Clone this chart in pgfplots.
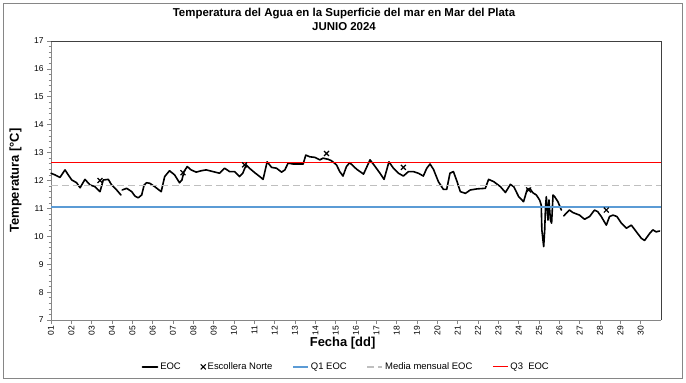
\documentclass[border=0pt]{standalone}
\usepackage{pgfplots}
\pgfplotsset{compat=1.18}
\usepackage{pgfplotstable}
\usepackage{fontspec}
\setmainfont{Liberation Sans}
\definecolor{qoneblue}{RGB}{91,155,213}
\definecolor{qthreered}{RGB}{255,0,0}
\definecolor{mediagray}{RGB}{191,191,191}
\definecolor{axgray}{RGB}{134,134,134}

\pgfplotstableread{
day temp
1.00 12.26
1.20 12.20
1.44 12.11
1.69 12.38
1.85 12.20
2.02 12.02
2.26 11.92
2.43 11.74
2.67 12.04
2.92 11.84
3.16 11.78
3.41 11.60
3.57 12.02
3.82 12.04
3.98 11.84
4.23 11.66
4.44 11.48
4.47 nan
4.50 11.66
4.72 11.72
4.97 11.60
5.13 11.44
5.29 11.38
5.46 11.48
5.58 11.84
5.70 11.92
5.86 11.90
6.10 11.78
6.42 11.60
6.59 12.14
6.83 12.35
7.08 12.20
7.32 11.92
7.44 12.02
7.54 12.32
7.70 12.50
7.89 12.38
8.14 12.30
8.39 12.35
8.63 12.38
8.96 12.32
9.29 12.26
9.54 12.44
9.78 12.32
10.03 12.32
10.27 12.14
10.43 12.26
10.60 12.56
10.76 12.44
11.02 12.28
11.27 12.14
11.43 12.04
11.63 12.67
11.85 12.47
12.09 12.44
12.34 12.30
12.50 12.38
12.66 12.62
12.91 12.59
13.40 12.59
13.53 12.91
13.73 12.85
13.97 12.83
14.22 12.74
14.38 12.80
14.63 12.76
14.79 12.71
15.04 12.56
15.20 12.32
15.36 12.16
15.53 12.50
15.69 12.64
15.89 12.50
16.04 12.40
16.37 12.23
16.69 12.74
16.94 12.50
17.18 12.26
17.38 12.04
17.62 12.67
17.84 12.44
18.09 12.26
18.33 12.16
18.58 12.32
18.82 12.32
19.07 12.26
19.31 12.16
19.48 12.44
19.64 12.59
19.81 12.40
20.05 11.96
20.30 11.68
20.46 11.68
20.62 12.26
20.79 12.32
20.97 11.96
21.13 11.60
21.38 11.54
21.62 11.66
21.95 11.70
22.36 11.72
22.52 12.04
22.77 11.96
23.10 11.78
23.35 11.57
23.59 11.86
23.76 11.78
24.00 11.42
24.24 11.24
24.41 11.66
24.54 11.72
24.70 11.56
24.87 11.48
25.03 11.30
25.11 11.12
25.14 10.23
25.23 9.63
25.28 10.23
25.32 11.06
25.36 11.42
25.44 10.58
25.49 11.30
25.56 10.58
25.62 10.47
25.69 11.48
25.77 11.42
25.93 11.24
26.10 10.94
26.16 nan
26.22 10.73
26.34 10.83
26.50 10.94
26.67 10.85
26.99 10.76
27.24 10.61
27.49 10.71
27.73 10.94
27.89 10.88
28.06 10.71
28.31 10.40
28.47 10.71
28.64 10.76
28.83 10.71
29.05 10.47
29.30 10.29
29.54 10.40
29.79 10.16
30.03 9.93
30.19 9.85
30.45 10.11
30.60 10.23
30.76 10.16
30.93 10.19
}\eoc

\pgfplotstableread{
day temp
3.41 12.00
7.49 12.28
10.52 12.56
14.55 12.97
18.33 12.47
24.49 11.66
28.31 10.94
}\escollera

\pgfplotstableread{
day qa media qc
1 11.04 11.82 12.63
31 11.04 11.82 12.63
}\refs

\begin{document}
\begin{tikzpicture}[x=1bp,y=1bp]
\useasboundingbox (0,0) rectangle (686,382);
\draw[axgray, line width=0.8bp] (3,4) rectangle (682,379);
\node[font=\bfseries\fontsize{11.5}{13}\selectfont] at (344,368) {Temperatura del Agua en la Superficie del mar en Mar del Plata};
\node[font=\bfseries\fontsize{11.5}{13}\selectfont] at (344,355) {JUNIO 2024};
\begin{axis}[
  at={(51bp,62bp)}, anchor=south west,
  scale only axis, width=610bp, height=279bp,
  xmin=1, xmax=31, ymin=7, ymax=17,
  axis x line*=bottom, axis y line*=left,
  axis line style={axgray, line width=0.8bp},
  /pgf/number format/assume math mode=true,
  xtick={1,...,30},
  xticklabels={01,02,03,04,05,06,07,08,09,10,11,12,13,14,15,16,17,18,19,20,21,22,23,24,25,26,27,28,29,30},
  xticklabel style={rotate=90, anchor=east, font=\fontsize{8.5}{10}\selectfont, inner sep=2bp},
  ytick={7,...,17},
  minor y tick num=4,
  yticklabel style={font=\fontsize{8.5}{10}\selectfont},
  tick style={axgray, line width=0.6bp},
  tick align=outside,
  major tick length=4bp, minor tick length=2.5bp,
  xlabel={\bfseries Fecha [dd]},
  xlabel style={font=\fontsize{13}{15}\selectfont, at={(axis description cs:0.478,-0.082)}, anchor=center},
  ylabel={\bfseries Temperatura [°C]},
  ylabel style={font=\fontsize{13}{15}\selectfont, at={(axis description cs:-0.058,0.5)}, anchor=center},
  unbounded coords=jump,
  legend columns=5,
  legend style={draw=none, fill=none, font=\fontsize{9.5}{11}\selectfont, at={(axis description cs:0.484,-0.168)}, anchor=center, /tikz/every even column/.append style={column sep=18bp}},
  legend image code/.code={\draw[#1] (0bp,0bp) -- (15bp,0bp);},
  clip=false,
]
\addplot[black, line width=1.6bp, line join=round, line cap=round, mark=none] table[x=day,y=temp] {\eoc};
\addlegendentry{EOC}
\addplot[only marks, mark=x, mark size=3.5bp, mark options={black, line width=1.2bp}, legend image code/.code={\draw[only marks, mark=x, mark size=3.5bp, mark options={black, line width=1.2bp}] plot coordinates {(7bp,0bp)};}] table[x=day,y=temp] {\escollera};
\addlegendentry{Escollera Norte}
\addplot[color=qoneblue, line width=1.6bp, mark=none] table[x=day,y=qa] {\refs};
\addlegendentry{Q1 EOC}
\addplot[draw=mediagray, line width=1.4bp, dash pattern=on 7bp off 4bp, mark=none] table[x=day,y=media] {\refs};
\addlegendentry{Media mensual EOC}
\addplot[draw=qthreered, line width=1.0bp, mark=none] table[x=day,y=qc] {\refs};
\addlegendentry{Q3\ \ EOC}
\draw[black!75, line width=0.8bp] (rel axis cs:0,1) -- (rel axis cs:1,1) -- (rel axis cs:1,0);
\end{axis}
\end{tikzpicture}
\end{document}
